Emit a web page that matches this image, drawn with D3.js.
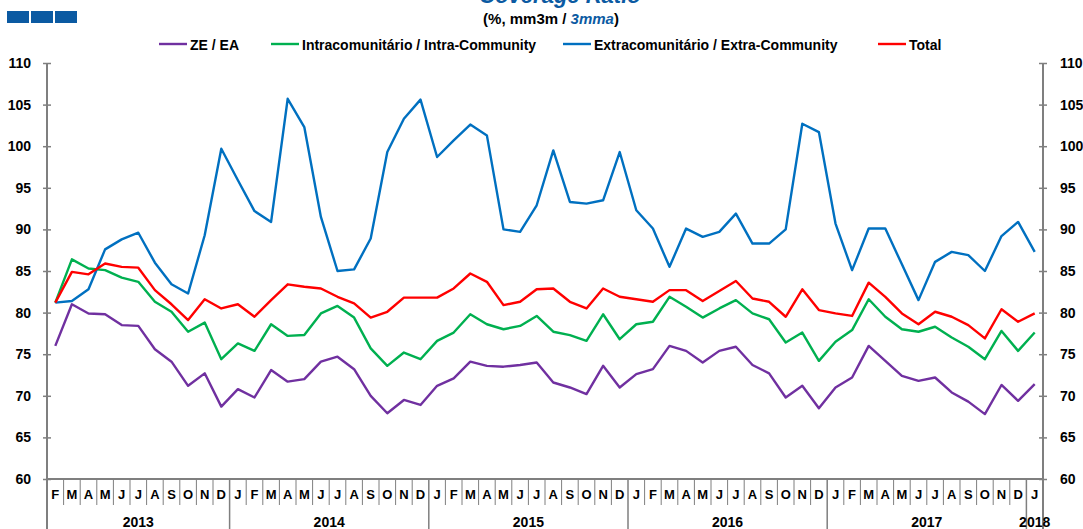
<!DOCTYPE html>
<html lang="en">
<head>
    <meta charset="UTF-8">
    <title>Coverage Ratio</title>
    <script src="https://d3js.org/d3.v7.min.js"></script>
    <style>
        body { margin: 0; background: #fff; }
        svg text { font-family: "Liberation Sans", Arial, sans-serif; fill: #000; }
    </style>
</head>
<body>
    <svg id="chart"></svg>

    <script>
        // months shown on the x axis (Feb 2013 .. Jan 2018)
        const months = [
            "Feb 2013", "Mar 2013", "Apr 2013", "May 2013", "Jun 2013", "Jul 2013", "Aug 2013", "Sep 2013", "Oct 2013", "Nov 2013", "Dec 2013",
            "Jan 2014", "Feb 2014", "Mar 2014", "Apr 2014", "May 2014", "Jun 2014", "Jul 2014", "Aug 2014", "Sep 2014", "Oct 2014", "Nov 2014", "Dec 2014",
            "Jan 2015", "Feb 2015", "Mar 2015", "Apr 2015", "May 2015", "Jun 2015", "Jul 2015", "Aug 2015", "Sep 2015", "Oct 2015", "Nov 2015", "Dec 2015",
            "Jan 2016", "Feb 2016", "Mar 2016", "Apr 2016", "May 2016", "Jun 2016", "Jul 2016", "Aug 2016", "Sep 2016", "Oct 2016", "Nov 2016", "Dec 2016",
            "Jan 2017", "Feb 2017", "Mar 2017", "Apr 2017", "May 2017", "Jun 2017", "Jul 2017", "Aug 2017", "Sep 2017", "Oct 2017", "Nov 2017", "Dec 2017",
            "Jan 2018"
        ];
        const yTicks = [60, 65, 70, 75, 80, 85, 90, 95, 100, 105, 110];

        // series values (%)
        const zeEa = [
            76.0, 81.0, 79.9, 79.8, 78.5, 78.4, 75.6, 74.1, 71.2, 72.7, 68.7,
            70.8, 69.8, 73.1, 71.7, 72.0, 74.1, 74.7, 73.2, 70.0, 67.9, 69.5, 68.9,
            71.2, 72.1, 74.1, 73.6, 73.5, 73.7, 74.0, 71.6, 71.0, 70.2, 73.6, 71.0,
            72.6, 73.2, 76.0, 75.4, 74.0, 75.4, 75.9, 73.7, 72.7, 69.8, 71.2, 68.5,
            71.0, 72.2, 76.0, 74.2, 72.4, 71.8, 72.2, 70.4, 69.3, 67.8, 71.3, 69.4,
            71.4
        ];
        const intra = [
            81.2, 86.4, 85.3, 85.1, 84.2, 83.7, 81.3, 80.1, 77.7, 78.8, 74.4,
            76.3, 75.4, 78.6, 77.2, 77.3, 79.9, 80.8, 79.4, 75.7, 73.6, 75.2, 74.4,
            76.6, 77.6, 79.8, 78.6, 78.0, 78.4, 79.6, 77.7, 77.3, 76.6, 79.8, 76.8,
            78.6, 78.9, 81.9, 80.7, 79.4, 80.5, 81.5, 79.9, 79.2, 76.4, 77.6, 74.2,
            76.5, 77.9, 81.6, 79.5, 78.0, 77.7, 78.3, 77.0, 75.9, 74.4, 77.8, 75.4,
            77.6
        ];
        const extra = [
            81.2, 81.4, 82.8, 87.6, 88.8, 89.6, 86.0, 83.4, 82.3, 89.3, 99.7,
            95.9, 92.2, 90.9, 105.7, 102.3, 91.5, 85.0, 85.2, 88.9, 99.3, 103.3, 105.6,
            98.7, 100.7, 102.6, 101.3, 90.0, 89.7, 92.9, 99.5, 93.3, 93.1, 93.5, 99.3,
            92.3, 90.1, 85.5, 90.1, 89.1, 89.7, 91.9, 88.3, 88.3, 90.0, 102.7, 101.7,
            90.7, 85.1, 90.1, 90.1, 85.8, 81.5, 86.1, 87.3, 86.9, 85.0, 89.2, 90.9,
            87.3
        ];
        const total = [
            81.2, 84.9, 84.6, 85.9, 85.5, 85.4, 82.7, 81.0, 79.1, 81.6, 80.5,
            81.0, 79.5, 81.5, 83.4, 83.1, 82.9, 81.9, 81.1, 79.4, 80.1, 81.8, 81.8,
            81.8, 82.9, 84.7, 83.7, 80.9, 81.3, 82.8, 82.9, 81.3, 80.5, 82.9, 81.9,
            81.6, 81.3, 82.7, 82.7, 81.4, 82.6, 83.8, 81.7, 81.3, 79.5, 82.8, 80.3,
            79.9, 79.6, 83.6, 81.9, 79.9, 78.6, 80.1, 79.5, 78.5, 76.9, 80.4, 78.9,
            79.9
        ];

        const seriesNames = ["ZE / EA", "Intracomunitário / Intra-Community", "Extracomunitário / Extra-Community", "Total"];
        const seriesValues = [zeEa, intra, extra, total];
        const seriesColors = ["#7030a0", "#00b050", "#0070c0", "#ff0000"];

        const W = 1083, H = 529;
        const margin = { top: 63, right: 40, bottom: 50, left: 47 };
        const width = W - margin.left - margin.right;
        const height = H - margin.top - margin.bottom;
        const axisColor = "#7f7f7f";

        const root = d3.select("#chart").attr("width", W).attr("height", H);

        // header: three blue blocks, clipped title, subtitle
        root.selectAll(".block")
            .data([0, 1, 2])
            .enter().append("rect")
            .attr("x", d => 7 + d * 24)
            .attr("y", 11)
            .attr("width", 22)
            .attr("height", 12)
            .attr("fill", "#0b5aa2");

        root.append("text")
            .attr("x", 560).attr("y", 3)
            .attr("text-anchor", "middle")
            .style("font-size", "22px").style("font-weight", "bold").style("font-style", "italic")
            .style("fill", "#0b5aa2")
            .text("Coverage Ratio");

        const sub = root.append("text")
            .attr("x", 551).attr("y", 24)
            .attr("text-anchor", "middle")
            .style("font-size", "15px").style("font-weight", "bold");
        sub.append("tspan").text("(%, mm3m / ");
        sub.append("tspan").style("fill", "#0b5aa2").style("font-style", "italic").text("3mma");
        sub.append("tspan").text(")");

        // legend
        const legendX = [159, 271, 563, 878];
        const legend = root.selectAll(".legend")
            .data(seriesNames)
            .enter().append("g")
            .attr("transform", (d, i) => `translate(${legendX[i]},44)`);
        legend.append("line")
            .attr("x1", 0).attr("x2", 28)
            .attr("stroke", (d, i) => seriesColors[i])
            .attr("stroke-width", 2.4);
        legend.append("text")
            .attr("x", 31).attr("y", 5.5)
            .style("font-size", "14px").style("font-weight", "bold")
            .text(d => d);

        const svg = root.append("g")
            .attr("transform", `translate(${margin.left},${margin.top})`);

        const x = d3.scaleBand().domain(months).range([0, width]).padding(0);
        const y = d3.scaleLinear().domain([60, 110]).range([height, 0]);

        // y axes, ticks crossing the axis line
        const yLeft = svg.append("g").call(d3.axisLeft(y).tickValues(yTicks).tickSize(4).tickPadding(12));
        const yRight = svg.append("g").attr("transform", `translate(${width},0)`)
            .call(d3.axisRight(y).tickValues(yTicks).tickSize(4).tickPadding(13));
        yLeft.selectAll(".tick line").attr("x1", 4);
        yRight.selectAll(".tick line").attr("x1", -4);
        [yLeft, yRight].forEach(g => {
            g.select(".domain").remove();
            g.selectAll(".tick line").attr("stroke", axisColor).attr("stroke-width", 1.5);
            g.selectAll(".tick text").style("font-size", "14px").style("font-weight", "bold")
                .style("font-family", "'Liberation Sans', Arial, sans-serif").attr("fill", "#000");
        });

        // axis lines running down through the category area
        svg.append("line").attr("x1", 0).attr("x2", 0).attr("y1", 0).attr("y2", H - margin.top)
            .attr("stroke", axisColor).attr("stroke-width", 2);
        svg.append("line").attr("x1", width).attr("x2", width).attr("y1", 0).attr("y2", H - margin.top)
            .attr("stroke", axisColor).attr("stroke-width", 2);
        svg.append("line").attr("x1", 0).attr("x2", width).attr("y1", height).attr("y2", height)
            .attr("stroke", axisColor).attr("stroke-width", 2);

        // month separators and letters
        const xg = svg.append("g").attr("transform", `translate(0,${height})`);
        xg.selectAll(".sep")
            .data(months.slice(1))
            .enter().append("line")
            .attr("x1", d => x(d)).attr("x2", d => x(d))
            .attr("y1", 0)
            .attr("y2", d => d.startsWith("Jan") ? H - margin.top - height : 26)
            .attr("stroke", axisColor)
            .attr("stroke-width", d => d.startsWith("Jan") ? 1.5 : 1);
        xg.selectAll(".mlabel")
            .data(months)
            .enter().append("text")
            .attr("x", d => x(d) + x.bandwidth() / 2)
            .attr("y", 20)
            .attr("text-anchor", "middle")
            .style("font-size", "13px").style("font-weight", "bold")
            .text(d => d[0]);

        // year labels centred over their months
        const years = Array.from(d3.group(months, d => d.slice(-4)), ([yr, ms]) => ({ yr, ms }));
        xg.selectAll(".ylabel")
            .data(years)
            .enter().append("text")
            .attr("x", d => (x(d.ms[0]) + x(d.ms[d.ms.length - 1]) + x.bandwidth()) / 2)
            .attr("y", 48)
            .attr("text-anchor", "middle")
            .style("font-size", "14px").style("font-weight", "bold")
            .text(d => d.yr);

        // series lines
        const line = d3.line()
            .x((d, i) => x(months[i]) + x.bandwidth() / 2)
            .y(d => y(d));
        svg.selectAll(".series")
            .data(seriesValues)
            .enter().append("path")
            .attr("fill", "none")
            .attr("stroke", (d, i) => seriesColors[i])
            .attr("stroke-width", 2.4)
            .attr("stroke-linejoin", "round")
            .attr("d", line);
    </script>
</body>
</html>
